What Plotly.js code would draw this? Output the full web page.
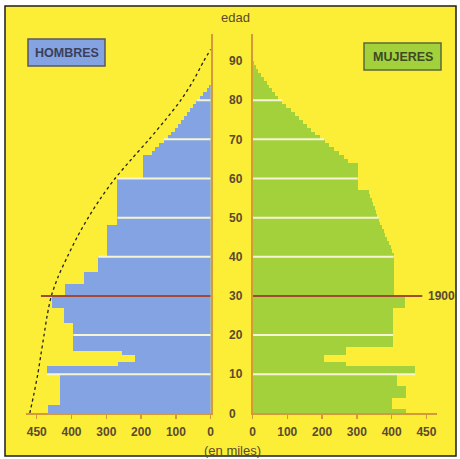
<!DOCTYPE html>
<html><head><meta charset="utf-8">
<script src="https://cdn.plot.ly/plotly-3.0.1.min.js"></script>
<style>html,body{margin:0;padding:0;background:#fff}#chart{width:460px;height:459px}</style>
</head><body><div id="chart"></div>
<script>
// ---- data (thousands of people per single year of age) ----
const ages = Array.from({length: 90}, (_, i) => i);
const hombres = [
  468, 468, 433, 433, 433, 433, 433, 433, 433, 433,
  471, 471, 266, 218, 218, 254, 395, 395, 395, 395,
  395, 395, 395, 421, 421, 421, 421, 457, 457, 457,
  419, 419, 419, 363, 363, 363, 323, 323, 323, 323,
  297, 297, 297, 297, 297, 297, 297, 297, 268, 268,
  268, 268, 268, 268, 268, 268, 268, 268, 268, 268,
  196, 196, 196, 196, 196, 196, 170, 160, 148, 135,
  122, 113, 104, 95, 86, 77, 68, 59, 50, 41,
  32, 22, 12, 4, 0, 0, 0, 0, 0, 0
];
const mujeres = [
  440, 400, 400, 400, 441, 441, 441, 415, 415, 415,
  468, 468, 270, 206, 206, 270, 270, 404, 404, 404,
  404, 404, 404, 404, 404, 404, 404, 437, 437, 437,
  406, 406, 406, 406, 406, 406, 406, 406, 406, 406,
  406, 402, 398, 393, 388, 382, 377, 372, 367, 363,
  359, 355, 351, 347, 343, 339, 335, 303, 303, 303,
  303, 303, 303, 303, 275, 262, 248, 234, 220, 207,
  194, 181, 168, 156, 144, 133, 121, 110, 97, 86,
  74, 65, 57, 48, 41, 33, 25, 17, 10, 4
];
// theoretical (dotted) profile on the men's side
const curvaEdad = [0, 5, 10, 15, 20, 25, 30, 35, 40, 45, 50, 55, 60, 65, 70, 75, 80, 85, 90, 93];
const curvaValor = [520, 508, 497, 488, 479, 470, 458, 438, 412, 384, 352, 316, 275, 227, 177, 130, 86, 50, 20, 0];
const edadTicks = [0, 10, 20, 30, 40, 50, 60, 70, 80, 90];
const xTickVals = [0, 100, 200, 300, 400, 500];
const xTickText = ['0', '100', '200', '300', '400', '450'];
const separadores = [10, 20, 40, 50, 60, 70, 80];
const edad1900 = 30;
const largo1900 = 488;

// ---- styles ----
const W = 460, H = 459;
const fx = x => x / W, fy = y => 1 - y / H;
const yellow = '#fcee36', blue = '#84a3e3', green = '#a3d13c';
const axisCol = '#d49a3a', txtCol = '#5b4a2e', sepCol = '#f6f4d2', redCol = '#a34a34';
const FAM = 'Liberation Sans, Arial, sans-serif';
const numFont = {family: FAM, size: 12, color: txtCol, weight: 'bold'};

function sepTrace(vals, xa, ya) {
  const xs = [], ys = [];
  separadores.forEach(a => {
    const m = Math.max(vals[a - 1] || 0, vals[a] || 0);
    xs.push(0, m, null); ys.push(a, a, null);
  });
  return {type: 'scatter', mode: 'lines', x: xs, y: ys, xaxis: xa, yaxis: ya,
    line: {color: sepCol, width: 2}, hoverinfo: 'skip', showlegend: false};
}

const traces = [
  {type: 'bar', orientation: 'h', y: ages, x: hombres, width: 1, offset: 0,
   xaxis: 'x', yaxis: 'y', marker: {color: blue, line: {width: 0}}, showlegend: false},
  {type: 'bar', orientation: 'h', y: ages, x: mujeres, width: 1, offset: 0,
   xaxis: 'x2', yaxis: 'y2', marker: {color: green, line: {width: 0}}, showlegend: false},
  sepTrace(hombres, 'x', 'y'),
  sepTrace(mujeres, 'x2', 'y2'),
  {type: 'scatter', mode: 'lines', x: curvaValor, y: curvaEdad, xaxis: 'x', yaxis: 'y',
   line: {color: '#222', width: 1.3, dash: 'dot', shape: 'spline', smoothing: 0.8}, showlegend: false},
  {type: 'scatter', mode: 'lines', x: [0, largo1900], y: [edad1900, edad1900], xaxis: 'x', yaxis: 'y',
   line: {color: redCol, width: 2}, showlegend: false},
  {type: 'scatter', mode: 'lines', x: [0, largo1900], y: [edad1900, edad1900], xaxis: 'x2', yaxis: 'y2',
   line: {color: redCol, width: 2}, showlegend: false}
];

const xAxisCommon = {
  showgrid: false, zeroline: false, showline: true, linecolor: axisCol, linewidth: 2,
  ticks: 'outside', ticklen: 4, tickcolor: axisCol, tickwidth: 1.5,
  tickvals: xTickVals, ticktext: xTickText, tickfont: numFont, ticklabelstandoff: 2, fixedrange: true
};
const yDomain = [fy(413.3), fy(33.7)];
function ann(x, y, text, f, extra) {
  return Object.assign({xref: 'paper', yref: 'paper', x: fx(x), y: fy(y), text: text, showarrow: false,
    xanchor: 'center', yanchor: 'middle', font: f}, extra || {});
}
const layout = {
  width: W, height: H,
  margin: {l: 0, r: 0, t: 0, b: 0, pad: 0},
  paper_bgcolor: '#ffffff', plot_bgcolor: 'rgba(0,0,0,0)',
  bargap: 0, barmode: 'overlay', showlegend: false,
  font: {family: FAM, size: 12, color: txtCol},
  xaxis: Object.assign({}, xAxisCommon, {domain: [fx(26.3), fx(210.7)], range: [530, 0], anchor: 'y'}),
  xaxis2: Object.assign({}, xAxisCommon, {domain: [fx(252.5), fx(436.9)], range: [0, 530], anchor: 'y2'}),
  yaxis: {domain: yDomain, range: [0, 97], anchor: 'x', side: 'right', showgrid: false, zeroline: false,
    showline: true, linecolor: axisCol, linewidth: 2, ticks: '', tickvals: edadTicks,
    tickfont: numFont, ticklabelstandoff: 14, fixedrange: true},
  yaxis2: {domain: yDomain, range: [0, 97], anchor: 'x2', side: 'left', showgrid: false, zeroline: false,
    showline: true, linecolor: axisCol, linewidth: 2, ticks: '', showticklabels: false, fixedrange: true},
  shapes: [
    {type: 'rect', xref: 'paper', yref: 'paper', x0: fx(5), x1: fx(456), y0: fy(456), y1: fy(6),
     fillcolor: yellow, line: {color: '#1e1e1e', width: 1.5}, layer: 'below'},
    {type: 'rect', xref: 'paper', yref: 'paper', x0: fx(28), x1: fx(105), y0: fy(66), y1: fy(39),
     fillcolor: blue, line: {color: '#5a5a5a', width: 1.5}, layer: 'above'},
    {type: 'rect', xref: 'paper', yref: 'paper', x0: fx(364), x1: fx(441), y0: fy(70), y1: fy(43),
     fillcolor: green, line: {color: '#5a6a3a', width: 1.5}, layer: 'above'}
  ],
  annotations: [
    ann(66.5, 52.5, 'HOMBRES', {family: FAM, size: 12.5, color: '#3b3f5a', weight: 'bold'}),
    ann(402.5, 56.5, 'MUJERES', {family: FAM, size: 12.5, color: '#3e4a25', weight: 'bold'}),
    ann(235, 18, 'edad', {family: FAM, size: 13, color: txtCol}),
    ann(232.7, 450, '(en miles)', {family: FAM, size: 13, color: txtCol}),
    {xref: 'x2', yref: 'y2', x: largo1900, y: edad1900, xshift: 4, xanchor: 'left', yanchor: 'middle',
     text: '1900', showarrow: false, font: numFont}
  ]
};
Plotly.newPlot('chart', traces, layout, {staticPlot: true, displayModeBar: false});
</script></body></html>
